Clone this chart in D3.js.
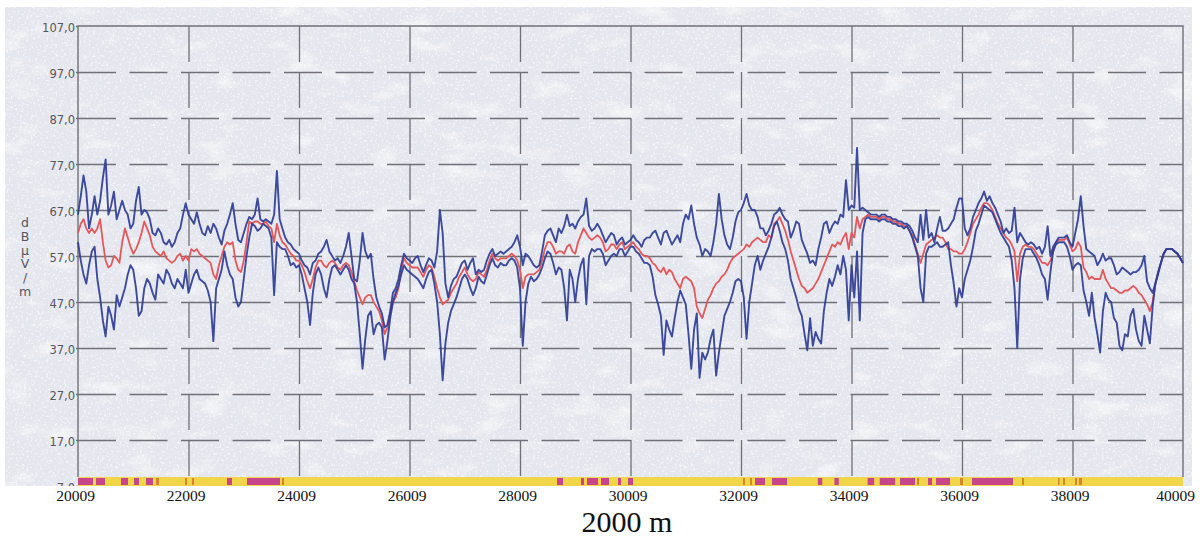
<!DOCTYPE html>
<html>
<head>
<meta charset="utf-8">
<script src="https://cdn.jsdelivr.net/npm/d3@7"></script>
<style>
body { margin: 0; background: #fff; }
svg { display: block; }
</style>
</head>
<body>
<script>
// field strength along the route, one reading every 50 m starting at 20009 m
var startM = 20009, stepM = 50;

var maxLevel = [
  66,70,74.5,71,63,66,70,66,69,74,78,
  66,68,71,65,67,69,67,66,63,64,
  69,72,66,67,66.5,65,62,61.5,63,62,
  60,59.5,60.5,59,60,62,63,66,68.5,66,
  65,64,66.5,64,62,61.5,63.5,62,64,63,
  61,59.5,62.5,64,66,68.5,64,60.5,60,62,
  64,65.5,65,66,69.5,65,64.5,65,64.5,64,
  66,75.5,65,63,61,60,59.5,58.5,58,57.5,
  56,55,54.5,53,55.5,56,57.5,58,59,60.5,
  58,57,56,56.5,55.5,57,59,62,57,52,
  51.5,56,62,58,56.5,57.5,52,48,46,44.5,
  41.5,42,45,49,50,52,55,57.5,56.5,56,
  55.5,56.5,57,55,53.5,55,56.5,56,54.5,58,
  67,62,51,48,50.5,52,52.5,54,55.5,56,
  54,55.5,56.5,53,54,53.5,54,56,57.5,58.5,
  57,57.5,58,57.5,58,58.5,59,60,61.5,59,
  55,57.5,57,56,55,54.5,55,58,61.5,62.5,
  63,61.5,60,63,62,63.5,66,63.5,64,63,
  64.5,65.5,66,69.5,63.5,62.5,63,64,63,61.5,
  60,61,62,61.5,59.5,60.5,61,59.5,60,60.5,
  61.5,60.5,60,59,60.5,61,61,62,62.5,61,
  59.5,62,62.5,61,59.5,60.5,61.5,60,64,66,
  65,68,64,61,59.5,57,58.5,58,57,60,
  64,70.5,65,61.5,59.5,58.5,61,64.5,66.5,67,
  68.5,70.5,68,67,67,65.5,63,63,61.5,62.5,
  64,66,66.5,67.5,66,65,64.5,61,62.5,64.5,
  64,60.5,59,57.5,55.5,56,55,58.5,61,64,
  64.5,62,63.5,64.5,64,66,65.5,73.5,67,68,
  67.5,80.5,67,67.5,67,66.5,66,66,66,65.5,
  66,66,65.5,65.5,65,65,64.5,64.5,64,64,
  63.5,62.5,61,60,66,60.5,67,61,62,60,
  63,65.5,62.5,62.5,63,64,65,67.5,69.5,69.5,
  63,61.5,63,65.5,67,68.5,69.5,71,69,70,
  68.5,67.5,66,64.5,62,63,62,62.5,67.5,60,
  62,61,60,59.5,60,59.5,58.5,59,57.5,59,
  63.5,57,59,60,61,61,61,61.5,60,59,
  62,65,70,63.5,58.5,58,57.5,57,55,56,
  57.5,56,56.5,56.5,55,53,53.5,54.5,54,53.5,
  53,53.5,53.5,54,55,57,51.5,50,49,51,
  53,55.5,57.5,58.5,58.5,58.5,58,57.5,56.5,55.5
];

var avgLevel = [
  62,64,65,63,62,63,62,63,65,60,56,
  54.5,55,57,56.5,55.5,60,63,61,59,57.5,
  58.5,60,62,64.5,63,61.5,59,58,57.5,57,
  58,56.5,56,55.5,56,57,57.5,56,57,56,
  58.5,58,58.5,57.5,57,56.5,56,55.5,53,52,
  55,57,59,60,59.5,60,56,54,53.5,56,
  60,64.5,64,64.5,64.5,64,64,64.5,63.5,63,
  60,64,61.5,60,59.5,58.5,57.5,57,56,56,
  55,53.5,51.5,50,52,54.5,56,56,55,54.5,
  55.5,56,55.5,54.5,54,55,55.5,55,53.5,51.5,
  49.5,48,46.5,48,48.5,48.5,47,46,45,43,
  40,41.5,44.5,47,48,50,54,56.5,55.5,55,
  54.5,54.5,54.5,53.5,52.5,54,55,54.5,52.5,50,
  48,46.5,47,47.5,49,50,51,52.5,53.5,54.5,
  53,52,51.5,52,53.5,53,52.5,54,56,57.5,
  56.5,56,56.5,56.5,56.5,57,57.5,57,56,54,
  50,52.5,53,53,53,53.5,54,56,58.5,60,
  60,59,57.5,58,58,57.5,59,59.5,58,57.5,
  60,61.5,63,62,61,60.5,61,61.5,61,60,
  58,58.5,59.5,59.5,58.5,59.5,60,58.5,59,59.5,
  60,59,58.5,57.5,57,57,56.5,55.5,55,54,
  53.5,54.5,53,54,53.5,52,51,50,52,52.5,
  52,51.5,50,46,44.5,43.5,45.5,47.5,48.5,50,
  51,51.5,52.5,53,54,55.5,56.5,57,57.5,58,
  58.5,59.5,59,60,60.5,61,60.5,60,60,61.5,
  61,64,64.5,65.5,64,62.5,60.5,58,56,54,
  52,50.5,50,49,49.5,50,51,52,53.5,55,
  56.5,58,59.5,59,60,59.5,61,62,58.5,62,
  61,65.5,63,65,65.5,66,65.5,65.5,65.5,65,
  65.5,65.5,65,65,64.5,64.5,64,64,63.5,63.5,
  62.5,61.5,59.5,57.5,55.5,57.5,59.5,60,60.5,61,
  61.5,61,61,60,58.5,58.5,58,58,57.5,57.5,
  58.5,60,62,64,65,66,67.5,68.5,68.5,68,
  67,65.5,64,63,62,61,60.5,59.5,58,51.5,
  57.5,59,59.5,59,59,58.5,57.5,56.5,55.5,55.5,
  55,56,58,60,60.5,60.5,60.5,61,59.5,58,
  58.5,60,59,54.5,53.5,52,52.5,52,52,52,
  54,52,51,50,50,49.5,49,49,49.5,49.5,
  50,50.5,50,49,48.5,47.5,46.5,45,47,51,
  53.5,55.5,57.5,58.5,58.5,58.5,58,57.5,56.5,55.5
];

var minLevel = [
  60,56,53,51,55,58,59,52,48,43,39.5,
  46,44,41,48.5,46,48,50,53,55,54,
  50,44,45,50,52,51,49,47.5,53,52,
  51,54,53,51,50,52,51,50,54,49,
  51,53,54,52,51.5,51,49.5,47,38.5,50,
  52,54,58,55,53,52,48,46,47,52,
  57,61,64,63.5,62.5,63,64,63.5,63,61,
  48.5,60,59,58.5,58.5,57,55,55.5,54.5,55,
  53,50,47,42,49,53,54.5,53,50,48,
  52,54.5,55,54,53,54,55,54,52,51,
  47,40,32.5,39,44,45,40,42,42.5,41.5,
  34.5,38.5,43.5,47,49,50.5,53,55,54,53.5,
  53,52.5,52,51,50,52,53.5,54,51,47,
  40,30,38,42.5,45,46.5,48,50,52,53,
  52,50,48.5,50,52.5,51.5,51,53,55,56.5,
  55,54.5,55.5,55,55,56,56.5,56,54.5,50,
  37.5,47,51,52.5,51.5,52,53,54.5,56.5,58,
  57.5,55.5,53,54.5,54,50,43,54,52,47,
  52,55,56.5,46.5,57,58.5,58,58.5,58.5,57.5,
  55,56,57,57.5,57,58.5,58.5,57,58,59,
  59,58,57.5,56.5,55.5,55.5,55,52.5,48.5,46.5,
  44,35.5,43,41,39.5,43.5,47,49.5,48,46.5,
  40,32.5,41,44.5,30.5,36,34.5,36,39,41,
  31,36,40,44,45.5,47,49,51.5,52,51.5,
  48,39,47,51,55,57,54,56,57.5,59,
  61,63.5,64.5,62.5,60,58.5,56,52,50,48,
  45.5,44,40,36.5,43.5,37.5,40.5,39,38,45,
  49,52,50.5,52.5,55,53,57,54,43,55,
  48,58,43,62,65,65.5,65,65,65,64.5,
  65,65,64.5,64.5,64,64,63.5,63.5,63,63.5,
  62.5,61,59,57,50,47,57.5,59,59,59.5,
  60,59,59,59.5,60,55,51,46,50,48,
  52,54,56,59,62.5,64,66,68,67.5,67,
  66.5,65,63.5,62,61,60,59,56,50,37,
  52,56.5,58.5,58.5,58.5,57.5,56.5,55,53,52,
  47.5,53.5,58,59.5,60,60,60,59,57,54,
  55,55.5,55,49.5,47,44,49,43.5,40,36,
  45,49,47.5,47,43.5,42.5,37.5,36.5,40,39.5,
  44,45.5,41,38.5,37.5,44,41,38,46,51,
  53.5,55.5,57.5,58.5,58.5,58.5,58,57.5,56.5,55.5
];

var xTicks = [20009, 22009, 24009, 26009, 28009, 30009, 32009, 34009, 36009, 38009, 40009];
var yTicks = [7, 17, 27, 37, 47, 57, 67, 77, 87, 97, 107];
var yTitle = ["d", "B", "µ", "V", "/", "m"];
var xTitle = "2000 m";

// coloured band under the plot (start m, end m)
var magentaSegs = [
  [20009,20281],[20335,20498],[20787,20914],[21023,21113],[21240,21366],
  [22706,22796],[23068,23665],
  [28679,28788],[29113,29168],[29222,29421],[29475,29620],[29783,29837],[29964,30055],
  [32263,32444],[32570,32842],
  [33400,33480],[33700,33780],[34300,34420],[34520,34800],
  [34887,35159],[35394,35467],[35539,35792],[36190,36933]
];
var orangeMarks = [
  [21421,21475],[21946,21982],[22072,22109],[23701,23738],[32045,32082],[32172,32208],
  [35195,35231],[35973,36027],[37095,37132],[37747,37765],[37838,37874],[38055,38091],[38127,38182]
];

var W = 1201, H = 538;
var plotLeft = 78, plotRight = 1183, plotTop = 26, plotBottom = 486, stripTop = 477;
var gridColor = "#707079";

var x = d3.scaleLinear().domain([20009, 40009]).range([plotLeft, plotRight]);
var y = d3.scaleLinear().domain([7, 107]).range([plotBottom, plotTop]);

var svg = d3.select("body").append("svg")
    .attr("width", W)
    .attr("height", H);

var defs = svg.append("defs");

// paper texture: white blotches on the grey card
var blot = defs.append("filter").attr("id", "blot")
    .attr("x", 0).attr("y", 0).attr("width", "100%").attr("height", "100%");
blot.append("feTurbulence").attr("type", "fractalNoise")
    .attr("baseFrequency", "0.025 0.05").attr("numOctaves", 4).attr("seed", 7);
blot.append("feColorMatrix").attr("type", "matrix")
    .attr("values", "0 0 0 0 1  0 0 0 0 1  0 0 0 0 1  4 0 0 0 -2.3");

var speck = defs.append("filter").attr("id", "speck")
    .attr("x", 0).attr("y", 0).attr("width", "100%").attr("height", "100%");
speck.append("feTurbulence").attr("type", "fractalNoise")
    .attr("baseFrequency", "0.45").attr("numOctaves", 2).attr("seed", 3);
speck.append("feColorMatrix").attr("type", "matrix")
    .attr("values", "0 0 0 0 1  0 0 0 0 1  0 0 0 0 1  7 0 0 0 -4.0");

defs.append("clipPath").attr("id", "card")
  .append("rect").attr("x", 0).attr("y", 0).attr("width", W).attr("height", plotBottom);

var card = svg.append("g");
card.append("rect")
    .attr("x", 5).attr("y", 7)
    .attr("width", 1187).attr("height", plotBottom - 7)
    .attr("fill", "#e5e7ee");
card.append("rect")
    .attr("x", 5).attr("y", 7)
    .attr("width", 1187).attr("height", plotBottom - 7)
    .attr("filter", "url(#blot)")
    .attr("opacity", 0.5);
card.append("rect")
    .attr("x", 5).attr("y", 7)
    .attr("width", 1187).attr("height", plotBottom - 7)
    .attr("filter", "url(#speck)")
    .attr("opacity", 0.55);

// horizontal dashed grid
var hGrid = svg.append("g")
    .attr("transform", "translate(" + plotLeft + ",0)")
    .call(d3.axisLeft(y)
        .tickValues(yTicks.filter(function (v) { return v > 7 && v < 107; }))
        .tickSize(-(plotRight - plotLeft))
        .tickFormat(""));
hGrid.select(".domain").remove();
hGrid.selectAll("line")
    .attr("stroke", gridColor)
    .attr("stroke-width", 1.3)
    .attr("stroke-dasharray", "38,13.5");

// vertical dashed grid
var vGrid = svg.append("g")
    .attr("transform", "translate(0," + plotTop + ")")
    .call(d3.axisTop(x)
        .tickValues(xTicks.slice(1, -1))
        .tickSize(-(stripTop - plotTop))
        .tickFormat(""));
vGrid.select(".domain").remove();
vGrid.selectAll("line")
    .attr("stroke", gridColor)
    .attr("stroke-width", 1.3)
    .attr("stroke-dasharray", "36,10");

// frame: left axis, top and right border
svg.append("path")
    .attr("d", "M" + plotLeft + "," + stripTop + "V" + plotTop + "H" + plotRight + "V" + stripTop)
    .attr("fill", "none")
    .attr("stroke", gridColor)
    .attr("stroke-width", 1.4);

// y labels (the lowest one is cut by the card edge, as on the print)
var yAxis = svg.append("g")
    .attr("clip-path", "url(#card)")
  .append("g")
    .attr("transform", "translate(" + plotLeft + ",0)")
    .call(d3.axisLeft(y)
        .tickValues(yTicks)
        .tickSize(2)
        .tickPadding(1)
        .tickFormat(function (d) { return d3.format(".1f")(d).replace(".", ","); }));
yAxis.select(".domain").remove();
yAxis.selectAll("line").attr("stroke", gridColor).attr("stroke-width", 1.3);
yAxis.selectAll("text")
    .attr("dy", "0.5em")
    .attr("fill", "#56565f")
    .style("font-family", "'DejaVu Sans', sans-serif")
    .style("font-size", "11.5px");

svg.append("g")
    .selectAll("text")
    .data(yTitle)
    .enter().append("text")
    .attr("x", 25)
    .attr("y", function (d, i) { return 227 + i * 13.8; })
    .attr("text-anchor", "middle")
    .attr("fill", "#56565f")
    .style("font-family", "'DejaVu Sans', sans-serif")
    .style("font-size", "12.5px")
    .text(function (d) { return d; });

// traces
var line = d3.line()
    .x(function (d, i) { return x(startM + i * stepM); })
    .y(function (d) { return y(d); });

svg.append("path")
    .datum(avgLevel)
    .attr("d", line)
    .attr("fill", "none")
    .attr("stroke", "#e2585b")
    .attr("stroke-width", 1.8)
    .attr("stroke-linejoin", "round");

[minLevel, maxLevel].forEach(function (series) {
    svg.append("path")
        .datum(series)
        .attr("d", line)
        .attr("fill", "none")
        .attr("stroke", "#2f3d95")
        .attr("stroke-width", 1.9)
        .attr("stroke-linejoin", "round")
        .attr("opacity", 0.92);
});

// colour band
svg.append("rect")
    .attr("x", x(20009)).attr("y", stripTop)
    .attr("width", x(40009) - x(20009)).attr("height", plotBottom - stripTop)
    .attr("fill", "#f2d649");
svg.append("g").selectAll("rect")
    .data(magentaSegs)
    .enter().append("rect")
    .attr("x", function (d) { return x(d[0]); })
    .attr("y", stripTop + 1)
    .attr("width", function (d) { return x(d[1]) - x(d[0]); })
    .attr("height", plotBottom - stripTop - 2)
    .attr("fill", "#c8458b");
svg.append("g").selectAll("rect")
    .data(orangeMarks)
    .enter().append("rect")
    .attr("x", function (d) { return x(d[0]); })
    .attr("y", stripTop + 1)
    .attr("width", function (d) { return Math.max(1.5, x(d[1]) - x(d[0])); })
    .attr("height", plotBottom - stripTop - 2)
    .attr("fill", "#d5862f");

// x labels
var xAxis = svg.append("g")
    .attr("transform", "translate(0," + plotBottom + ")")
    .call(d3.axisBottom(x)
        .tickValues(xTicks)
        .tickSize(0)
        .tickPadding(4)
        .tickFormat(d3.format("d")));
xAxis.select(".domain").remove();
xAxis.selectAll("text")
    .attr("dx", function (d) { return d === 40009 ? -8 : -3; })
    .attr("fill", "#111")
    .style("font-family", "'Liberation Serif', 'Times New Roman', serif")
    .style("font-size", "15.5px");

svg.append("text")
    .attr("x", 627)
    .attr("y", 532)
    .attr("text-anchor", "middle")
    .attr("fill", "#111")
    .style("font-family", "'Liberation Serif', 'Times New Roman', serif")
    .style("font-size", "30px")
    .text(xTitle);
</script>
</body>
</html>
